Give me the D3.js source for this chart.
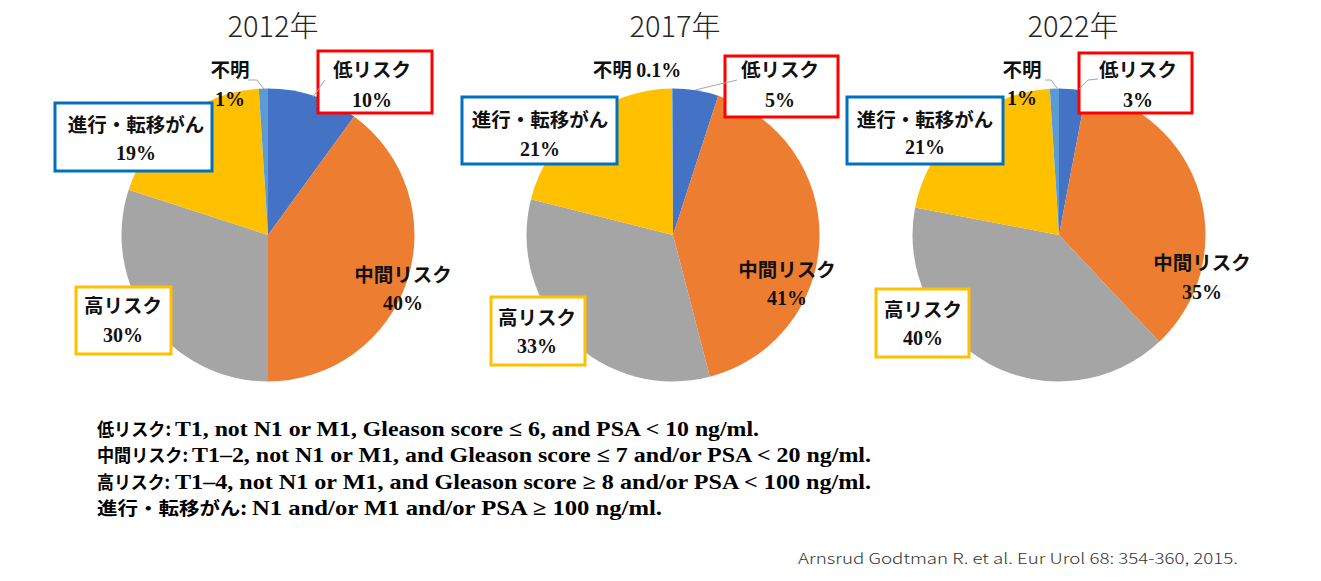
<!DOCTYPE html>
<html>
<head>
<meta charset="utf-8">
<script src="https://cdn.jsdelivr.net/npm/d3@7"></script>
<style>
  body { margin: 0; background: #fff; }
  .jp { font-family: "Noto Sans CJK JP", sans-serif; font-weight: 700; }
  .num { font-family: "Liberation Serif", "DejaVu Serif", serif; font-weight: 700; }
</style>
</head>
<body>
<div id="chart"></div>
<script>
// data
const years = ["2012年", "2017年", "2022年"];
const categories = ["低リスク", "中間リスク", "高リスク", "進行・転移がん", "不明"];
const values2012 = [10, 40, 30, 19, 1];
const values2017 = [5, 41, 33, 21, 0.1];
const values2022 = [3, 35, 40, 21, 1];
const sliceColors = ["#4472C4", "#ED7D31", "#A5A5A5", "#FFC000", "#5B9BD5"];
const boxColors = ["#FF0000", null, "#FFC000", "#0070C0", null];
const noteHeads = ["低リスク:", "中間リスク:", "高リスク:", "進行・転移がん:"];
const noteBodies = [
  "T1, not N1 or M1, Gleason score ≤ 6, and PSA < 10 ng/ml.",
  "T1–2, not N1 or M1, and Gleason score ≤ 7 and/or PSA < 20 ng/ml.",
  "T1–4, not N1 or M1, and Gleason score ≥ 8 and/or PSA < 100 ng/ml.",
  "N1 and/or M1 and/or PSA ≥ 100 ng/ml."
];
const citation = "Arnsrud Godtman R. et al. Eur Urol 68: 354-360, 2015.";

const W = 1321, H = 581;
const svg = d3.select("#chart").append("svg").attr("width", W).attr("height", H);

// layout of each pie: center, title, label spots [x, y1, y2] and boxes [x0,y0,x1,y1]
const layouts = [
  {
    cx: 268, cy: 235, r: 146.5, tx: 273,
    labels: [[372, 77, 107], [403, 282, 310], [123, 313, 342], [136, 132, 160], [230, 77, 106]],
    boxes: [[318, 51, 432, 113], null, [76, 287, 171, 354], [55, 103, 212, 171], null],
    leaders: [[[325, 80], [313, 97]], null, null, null, [[248, 80], [257, 80], [264, 89]]]
  },
  {
    cx: 673, cy: 235, r: 146.5, tx: 675,
    labels: [[780, 77, 107], [787, 277, 305], [537, 325, 353], [540, 127, 156], [637, 77, null]],
    boxes: [[725, 56, 838, 117], null, [491, 297, 585, 365], [462, 97, 617, 164], null],
    leaders: [[[737, 80], [695, 90]], null, null, null, null]
  },
  {
    cx: 1059, cy: 235, r: 146.5, tx: 1073,
    labels: [[1138, 77, 107], [1202, 270, 299], [923, 317, 345], [925, 127, 154], [1022, 77, 105]],
    boxes: [[1079, 53, 1192, 113], null, [876, 289, 969, 357], [847, 97, 1003, 164], null],
    leaders: [[[1098, 79], [1088, 80], [1079, 89]], null, null, null, [[1045, 80], [1051, 80], [1057, 88]]]
  }
];
const series = [values2012, values2017, values2022];

const pie = d3.pie().sort(null).value(d => d);
const arc = d3.arc().innerRadius(0);

series.forEach((vals, i) => {
  const L = layouts[i];
  const g = svg.append("g");

  // title
  g.append("text")
    .attr("x", L.tx).attr("y", 37)
    .attr("text-anchor", "middle")
    .attr("font-family", "'Noto Sans CJK JP', sans-serif")
    .attr("font-weight", 300)
    .attr("font-size", 29)
    .attr("fill", "#262626")
    .text(years[i]);

  const pg = g.append("g").attr("transform", `translate(${L.cx},${L.cy})`);
  pg.selectAll("path")
    .data(pie(vals))
    .enter()
    .append("path")
    .attr("d", d => arc.outerRadius(L.r)(d))
    .attr("fill", (d, k) => sliceColors[k]);

  // boxes
  L.boxes.forEach((b, k) => {
    if (!b) return;
    g.append("rect")
      .attr("x", b[0]).attr("y", b[1])
      .attr("width", b[2] - b[0]).attr("height", b[3] - b[1])
      .attr("fill", "#fff")
      .attr("stroke", boxColors[k])
      .attr("stroke-width", 3);
  });

  // leader lines
  L.leaders.forEach(pts => {
    if (!pts) return;
    g.append("path")
      .attr("d", d3.line()(pts))
      .attr("fill", "none")
      .attr("stroke", "#A6A6A6")
      .attr("stroke-width", 1);
  });

  // labels
  L.labels.forEach((p, k) => {
    const pct = vals[k] + "%";
    if (p[2] === null) {
      const t = g.append("text").attr("x", p[0]).attr("y", p[1])
        .attr("text-anchor", "middle").attr("fill", "#111");
      t.append("tspan").attr("class", "jp").attr("font-size", 19.5).text(categories[k] + " ");
      t.append("tspan").attr("class", "num").attr("font-size", 20).text(pct);
      return;
    }
    g.append("text").attr("class", "jp")
      .attr("x", p[0]).attr("y", p[1])
      .attr("text-anchor", "middle")
      .attr("font-size", 19.5).attr("fill", "#111")
      .text(categories[k]);
    g.append("text").attr("class", "num")
      .attr("x", p[0]).attr("y", p[2])
      .attr("text-anchor", "middle")
      .attr("font-size", 20).attr("fill", "#111")
      .text(pct);
  });
});

// definitions below: head (Japanese) and body (Latin) as separate texts
const headLen = [74, 91, 73, 150];
const bodyX = [175, 192, 175, 252];
const bodyEnd = [759, 871, 871, 662];
noteHeads.forEach((h, i) => {
  const y = 436 + i * 26.3;
  svg.append("text").attr("class", "jp")
    .attr("x", 97).attr("y", y)
    .attr("font-size", 18)
    .attr("fill", "#000")
    .attr("textLength", headLen[i])
    .attr("lengthAdjust", "spacingAndGlyphs")
    .text(h);
  svg.append("text").attr("class", "num")
    .attr("x", bodyX[i]).attr("y", y)
    .attr("font-size", 21)
    .attr("fill", "#000")
    .attr("textLength", bodyEnd[i] - bodyX[i])
    .attr("lengthAdjust", "spacingAndGlyphs")
    .text(noteBodies[i]);
});

svg.append("text")
  .attr("x", 798).attr("y", 564)
  .attr("font-family", "'Noto Sans CJK JP', sans-serif")
  .attr("font-weight", 300)
  .attr("font-size", 15)
  .attr("fill", "#333")
  .attr("textLength", 440)
  .attr("lengthAdjust", "spacingAndGlyphs")
  .text(citation);
</script>
</body>
</html>
